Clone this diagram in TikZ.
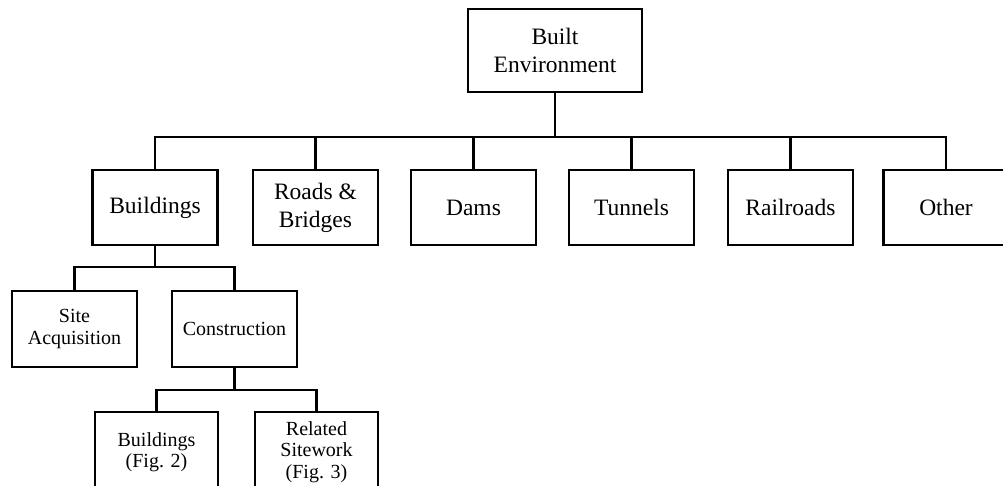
\documentclass[tikz,border=0pt]{standalone}
\usepackage{fontspec}
\setmainfont{Liberation Serif}
\begin{document}
\begin{tikzpicture}[x=1pt,y=1pt,
  box/.style={draw, line width=2.3pt, align=center, inner sep=0pt,
    minimum width=125pt, minimum height=75pt,
    font=\fontsize{23.5}{28}\selectfont},
  sbox/.style={box, font=\fontsize{20}{21.5}\selectfont, minimum height=76pt},
  link/.style={line width=2.2pt}]
\useasboundingbox (0,0) rectangle (1003,-486);
\clip (0,0) rectangle (1003,-486);
\node[box, minimum width=174pt, minimum height=83pt] (top) at (555,-50.5) {Built\\Environment};
\node[box] (b1) at (155,-207.5) {Buildings};
\node[box] (b2) at (315.5,-207.5) {Roads \&\\Bridges};
\node[box] (b3) at (473.5,-207.5) {Dams};
\node[box] (b4) at (631.5,-207.5) {Tunnels};
\node[box] (b5) at (790.5,-207.5) {Railroads};
\node[box] (b6) at (946,-207.5) {Other};
\node[sbox] (s1) at (74.5,-329) {Site\\Acquisition};
\node[sbox] (s2) at (234.5,-329) {Construction};
\node[sbox, minimum width=123pt, minimum height=80pt] (c1) at (156.5,-452) {Buildings\\(Fig. 2)};
\node[sbox, minimum width=123pt, minimum height=80pt] (c2) at (316.5,-452) {Related\\Sitework\\(Fig. 3)};
\coordinate (bar1) at (0,-137);
\coordinate (bar2) at (0,-267);
\coordinate (bar3) at (0,-390);
\draw[link] (top.south) -- (top.south |- bar1);
\draw[link] (b1.north) -- (b1.north |- bar1) -- (b6.north |- bar1) -- (b6.north);
\foreach \n in {b2,b3,b4,b5} \draw[link] (\n.north) -- (\n.north |- bar1);
\draw[link] (b1.south) -- (b1.south |- bar2);
\draw[link] (s1.north) -- (s1.north |- bar2) -- (s2.north |- bar2) -- (s2.north);
\draw[link] (s2.south) -- (s2.south |- bar3);
\draw[link] (c1.north) -- (c1.north |- bar3) -- (c2.north |- bar3) -- (c2.north);
\end{tikzpicture}
\end{document}
